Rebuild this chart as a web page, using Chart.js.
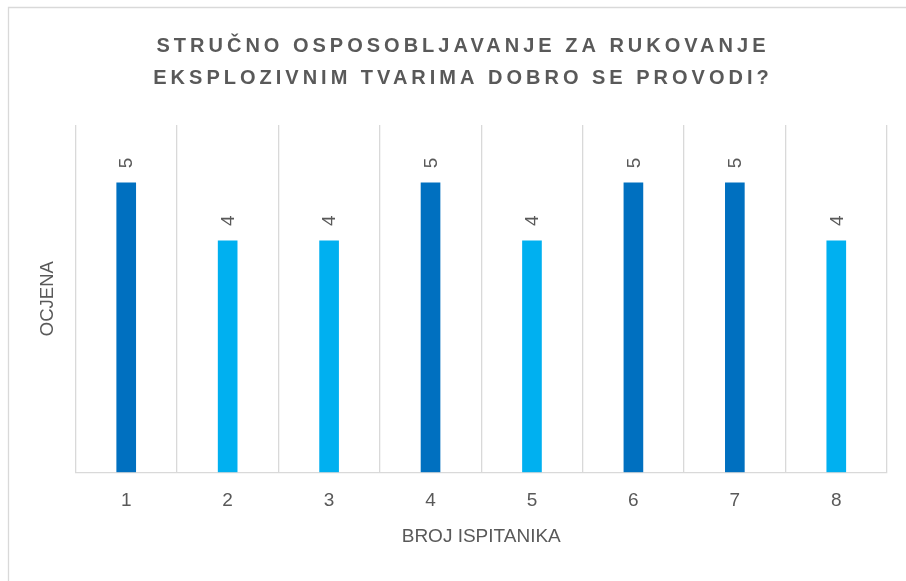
<!DOCTYPE html>
<html>
<head>
<meta charset="utf-8">
<script src="https://cdn.jsdelivr.net/npm/chart.js@4/dist/chart.umd.min.js"></script>
<style>
  html, body { margin: 0; padding: 0; background: #ffffff; overflow: hidden; }
  #wrap { width: 906px; height: 581px; position: relative; }
</style>
</head>
<body>
<div id="wrap"><canvas id="c"></canvas></div>
<script>
// ---- data ----
const TITLE_LINES = ['STRUČNO OSPOSOBLJAVANJE ZA RUKOVANJE', 'EKSPLOZIVNIM TVARIMA DOBRO SE PROVODI?'];
const categories = ['1', '2', '3', '4', '5', '6', '7', '8'];
const ratings = [5, 4, 4, 5, 4, 5, 5, 4];
const X_TITLE = 'BROJ ISPITANIKA';
const Y_TITLE = 'OCJENA';

// ---- styles ----
const FONT = "'Liberation Sans', Arial, sans-serif";
const TEXT = '#595959';
const GRID = '#d9d9d9';
const DARK = '#0070C0';
const LIGHT = '#00B0F0';

const framePlugin = {
  id: 'frame',
  beforeDraw(chart) {
    const ctx = chart.ctx;
    ctx.save();
    ctx.fillStyle = '#ffffff';
    ctx.fillRect(0, 0, chart.width, chart.height);
    ctx.strokeStyle = GRID;
    ctx.lineWidth = 1.3;
    ctx.beginPath();
    ctx.moveTo(8.5, chart.height);
    ctx.lineTo(8.5, 7.5);
    ctx.lineTo(chart.width, 7.5);
    ctx.stroke();
    ctx.restore();
  },
  afterDraw(chart) {
    const ctx = chart.ctx;
    ctx.save();
    ctx.fillStyle = TEXT;
    ctx.font = 'bold 20px ' + FONT;
    ctx.textBaseline = 'alphabetic';
    ctx.textAlign = 'left';
    const spacing = 4;
    ctx.letterSpacing = spacing + 'px';
    const cx = 461;
    const baselines = [51.5, 83.5];
    TITLE_LINES.forEach((line, i) => {
      const w = ctx.measureText(line).width - spacing;
      ctx.fillText(line, cx - w / 2, baselines[i]);
    });
    ctx.restore();
  }
};

const labelPlugin = {
  id: 'barLabels',
  afterDatasetsDraw(chart) {
    const ctx = chart.ctx;
    const meta = chart.getDatasetMeta(0);
    ctx.save();
    ctx.fillStyle = TEXT;
    ctx.font = '19px ' + FONT;
    ctx.textAlign = 'center';
    ctx.textBaseline = 'middle';
    meta.data.forEach((el, i) => {
      ctx.save();
      ctx.translate(el.x + 1, el.y - 20);
      ctx.rotate(-Math.PI / 2);
      ctx.fillText(String(chart.data.datasets[0].data[i]), 0, 0);
      ctx.restore();
    });
    ctx.restore();
  }
};

new Chart(document.getElementById('c'), {
  type: 'bar',
  data: {
    labels: categories,
    datasets: [{
      data: ratings,
      backgroundColor: (c) => (c.raw === 5 ? DARK : LIGHT),
      borderWidth: 0,
      barThickness: 19
    }]
  },
  options: {
    responsive: true,
    maintainAspectRatio: false,
    animation: false,
    layout: { padding: { left: 37, right: 19, top: 125, bottom: 32.6 } },
    plugins: {
      legend: { display: false },
      tooltip: { enabled: false },
      title: { display: false }
    },
    scales: {
      x: {
        grid: { display: true, color: GRID, lineWidth: 1.3, drawTicks: false, offset: true },
        border: { display: true, color: GRID, width: 1.3 },
        ticks: { color: TEXT, font: { family: FONT, size: 19 }, padding: 17, maxRotation: 0 },
        title: { display: true, text: X_TITLE, color: TEXT, font: { family: FONT, size: 19 }, padding: 0 },
        afterFit: (s) => { s.height = 76.1; }
      },
      y: {
        min: 0,
        max: 6,
        grid: { display: false },
        border: { display: false },
        ticks: { display: false },
        title: { display: true, text: Y_TITLE, color: TEXT, font: { family: FONT, size: 18.5 }, padding: 0 },
        afterFit: (s) => { s.width = 38.5; }
      }
    }
  },
  plugins: [framePlugin, labelPlugin]
});
</script>
</body>
</html>
